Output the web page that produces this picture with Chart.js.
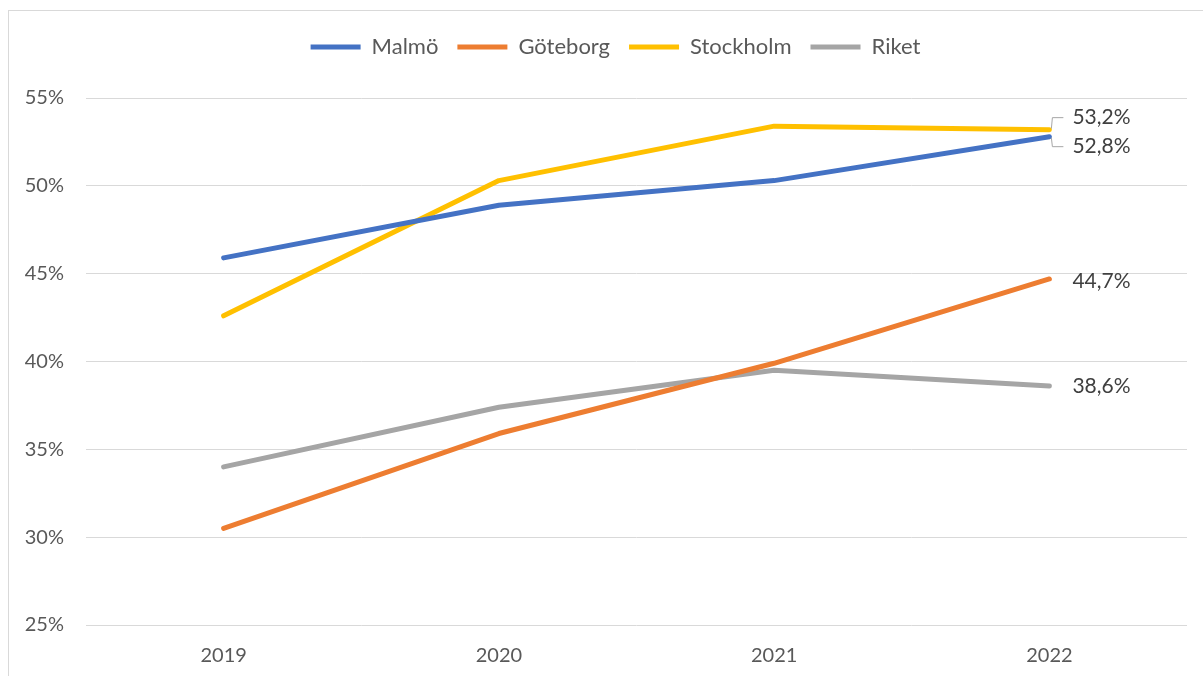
<!DOCTYPE html>
<html>
<head>
<meta charset="utf-8">
<script src="https://cdn.jsdelivr.net/npm/chart.js@4/dist/chart.umd.min.js"></script>
<style>
  html, body { margin: 0; padding: 0; background: #fff; overflow: hidden; }
  #ram { position: absolute; left: 8px; top: 10px; width: 1300px; height: 800px;
         border-left: 1px solid #d9d9d9; border-top: 1px solid #d9d9d9; }
  #wrap { position: absolute; left: 0; top: 0; width: 1203px; height: 676px; }
</style>
</head>
<body>
<div id="ram"></div>
<div id="wrap"><canvas id="diagram"></canvas></div>
<script>
// data
var ar = ['2019', '2020', '2021', '2022'];
var malmo = [45.9, 48.9, 50.3, 52.8];
var goteborg = [30.5, 35.9, 39.9, 44.7];
var stockholm = [42.6, 50.3, 53.4, 53.2];
var riket = [34.0, 37.4, 39.5, 38.6];
var yTicks = [25, 30, 35, 40, 45, 50, 55];

var fontFamily = 'Lato, "Noto Sans", sans-serif';
var fontSize = 20;
var legendSize = 22;

function linje(namn, varden, farg, etikettY) {
    return {
        label: namn,
        data: varden,
        borderColor: farg,
        backgroundColor: farg,
        borderWidth: 5,
        borderCapStyle: 'round',
        borderJoinStyle: 'round',
        pointRadius: 0,
        pointHoverRadius: 0,
        tension: 0,
        etikettY: etikettY
    };
}

// legenden sitter lite till höger om mitten
var flyttaLegend = {
    id: 'flyttaLegend',
    afterLayout: function (chart) {
        chart.legend.left += 22;
        chart.legend.right += 22;
    }
};

// etiketter vid sista punkten
var slutEtiketter = {
    id: 'slutEtiketter',
    afterDatasetsDraw: function (chart) {
        var ctx = chart.ctx;
        ctx.save();
        ctx.font = '21px ' + fontFamily;
        ctx.fillStyle = '#404040';
        ctx.textBaseline = 'middle';
        ctx.textAlign = 'left';
        chart.data.datasets.forEach(function (ds, i) {
            var meta = chart.getDatasetMeta(i);
            var sista = ds.data.length - 1;
            var p = meta.data[sista];
            var lx = p.x + 23;
            var ly = p.y + ds.etikettY;
            if (Math.abs(ds.etikettY) > 6) {
                var s = ds.etikettY < 0 ? -1 : 1;
                ctx.strokeStyle = '#a6a6a6';
                ctx.lineWidth = 1;
                ctx.beginPath();
                ctx.moveTo(p.x + 2, p.y + s * 1);
                ctx.lineTo(p.x + 3, ly);
                ctx.lineTo(lx - 9, ly);
                ctx.stroke();
            }
            ctx.fillText(ds.data[sista].toFixed(1).replace('.', ',') + '%', lx, ly);
        });
        ctx.restore();
    }
};

var config = {
    type: 'line',
    data: {
        labels: ar,
        datasets: [
            linje('Malmö', malmo, '#4472C4', 10),
            linje('Göteborg', goteborg, '#ED7D31', 2),
            linje('Stockholm', stockholm, '#FFC000', -12),
            linje('Riket', riket, '#A5A5A5', 0)
        ]
    },
    options: {
        responsive: true,
        maintainAspectRatio: false,
        animation: false,
        layout: {
            padding: { left: 0, right: 16, top: 17, bottom: 0 }
        },
        plugins: {
            tooltip: { enabled: false },
            legend: {
                position: 'top',
                labels: {
                    usePointStyle: true,
                    pointStyle: 'line',
                    pointStyleWidth: 50,
                    boxHeight: legendSize,
                    padding: 19,
                    color: '#595959',
                    font: { family: fontFamily, size: legendSize }
                }
            }
        },
        scales: {
            x: {
                offset: true,
                grid: { display: false, drawTicks: false },
                border: { display: false },
                afterFit: function (axis) { axis.height = 51; },
                ticks: {
                    color: '#595959',
                    padding: 19,
                    font: { family: fontFamily, size: fontSize }
                }
            },
            y: {
                min: 25,
                max: 56.71,
                afterBuildTicks: function (axis) {
                    axis.ticks = yTicks.map(function (v) { return { value: v }; });
                },
                afterFit: function (axis) { axis.width = 86; },
                grid: { color: '#d9d9d9', lineWidth: 1, drawTicks: false },
                border: { display: false },
                ticks: {
                    color: '#595959',
                    padding: 22,
                    font: { family: fontFamily, size: fontSize },
                    callback: function (v) { return v + '%'; }
                }
            }
        }
    },
    plugins: [flyttaLegend, slutEtiketter]
};

var diagram = new Chart(document.getElementById('diagram'), config);
</script>
</body>
</html>
